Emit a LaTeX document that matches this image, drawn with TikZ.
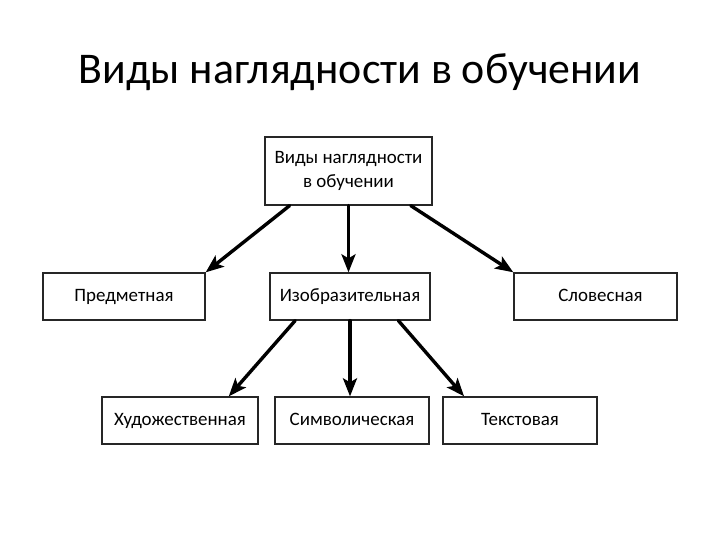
\documentclass[tikz,border=0pt]{standalone}
\usepackage{fontspec}
\setmainfont{Carlito}
\usetikzlibrary{arrows.meta,calc}
\tikzset{%
    kind/.style={draw=black!85, line width=1.3bp, fill=white,
        inner sep=2bp, font=\fontsize{19}{24}\selectfont, align=center},
    single/.style={kind, minimum height=47bp, text height=13bp, text depth=4bp},
    pointer/.style={-{Stealth[length=18bp,width=14bp,inset=4bp]},
        line width=3.4bp, line cap=round}
}
\begin{document}
\begin{tikzpicture}[x=1bp,y=-1bp]
    \useasboundingbox[fill=white] (0,0) rectangle (720,540);
    \node (title) at (360,72) {\fontsize{44}{50}\selectfont Виды наглядности в обучении};
    % upper level
    \node[kind, minimum width=167bp, minimum height=68bp] (top) at (348.5,171)
        {Виды наглядности\\в обучении};
    \node[single, minimum width=162bp] (obj) at (124,296.5) {Предметная};
    \node[single, minimum width=160bp] (img) at (350,296.5) {Изобразительная};
    \node[single, minimum width=163bp] (word) at (595.5,296.5) {\hspace{10bp}Словесная};
    % lower level
    \node[single, minimum width=156bp] (art) at (180,420.5) {Художественная};
    \node[single, minimum width=154bp] (sym) at (352,420.5) {Символическая};
    \node[single, minimum width=154bp] (text) at (520,420.5) {Текстовая};
    % arrows
    \draw[pointer] ($(top.south west)!0.15!(top.south east)$) -- (obj.north east);
    \draw[pointer] (top.south) -- (top.south |- img.north);
    \draw[pointer] ($(top.south west)!0.87!(top.south east)$) -- (word.north west);
    \draw[pointer] ($(img.south west)!0.16!(img.south east)$)
        -- ($(art.north west)!0.81!(art.north east)$);
    \draw[pointer] (img.south) -- (img.south |- sym.north);
    \draw[pointer] ($(img.south west)!0.8!(img.south east)$)
        -- ($(text.north west)!0.14!(text.north east)$);
\end{tikzpicture}
\end{document}
